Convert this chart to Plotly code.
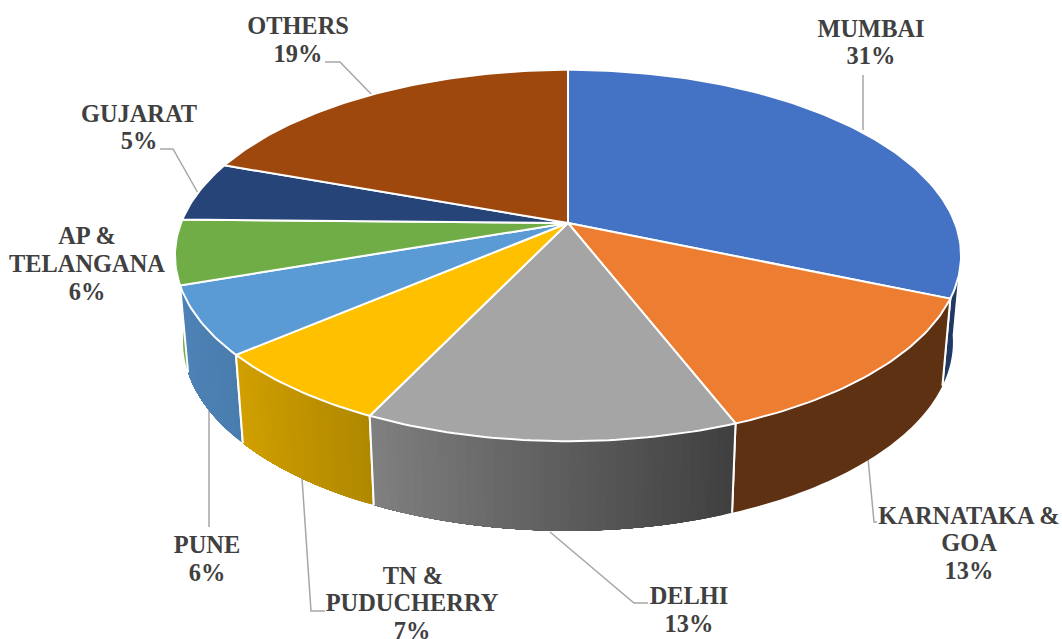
import math
import plotly.graph_objects as go

# ---- data ----
categories = ["MUMBAI", "KARNATAKA & GOA", "DELHI", "TN & PUDUCHERRY", "PUNE", "AP & TELANGANA", "GUJARAT", "OTHERS"]
values = [31.4, 12.7, 13.0, 6.65, 5.95, 5.6, 5.21, 19.49]

# ---- styles ----
top_colors = ["#4472C4", "#ED7D31", "#A5A5A5", "#FFC000", "#5B9BD5", "#70AD47", "#264478", "#9E480E"]
wall_left = {0: "#1F3864", 1: "#5F3113", 2: "#808080", 3: "#D2A000", 4: "#4F83B8", 5: "#70AD47"}
wall_right = {0: "#1F3864", 1: "#5F3113", 2: "#3F3F3F", 3: "#B08800", 4: "#4A7DAE", 5: "#70AD47"}

# ---- projection of the tilted pie ----
CX, CY, A, B, K = 568, 223, 387, 180, 0.175
A2, B2, Y2 = 379, 183, 309


def rim(theta, lower=False):
    den = 1 + K * math.cos(theta)
    a = A2 if lower else A
    b = B2 if lower else B
    y0 = Y2 if lower else CY
    return CX + a * math.sin(theta) / den, y0 - b * math.cos(theta) / den


def lerp(c1, c2, t):
    p = [int(c1[i:i + 2], 16) for i in (1, 3, 5)]
    q = [int(c2[i:i + 2], 16) for i in (1, 3, 5)]
    return "#%02X%02X%02X" % tuple(round(a + (b - a) * t) for a, b in zip(p, q))


total = sum(values)
bounds = [0]
for v in values:
    bounds.append(bounds[-1] + v)
angles = [2 * math.pi * b / total for b in bounds]

fig = go.Figure()

# leader lines
leaders = [
    ([863, 863], [75, 130]),
    ([325, 340, 373], [62, 62, 96]),
    ([160, 173, 198], [149, 149, 193]),
    ([877, 874, 868], [522, 522, 458]),
    ([209, 209], [527, 405]),
    ([325, 311, 302], [611, 611, 478]),
    ([648, 634, 550], [603, 603, 532]),
]
for lx, ly in leaders:
    fig.add_trace(go.Scatter(x=lx, y=ly, mode="lines", line=dict(color="#A6A6A6", width=1.5), hoverinfo="skip"))


def wall(i):
    t1, t2 = angles[i], angles[i + 1]
    if i == 0:
        t1 = math.radians(98)
    n = 40 if wall_left[i] != wall_right[i] else 1
    # painter's order: every strip runs to the far end of the slice, the next one covers it
    for s in range(n):
        a = t1 + (t2 - t1) * s / n
        steps = 40
        th = [a + (t2 - a) * j / steps for j in range(steps + 1)]
        up = [rim(t) for t in th]
        lo = [rim(t, True) for t in reversed(th)]
        xs = [p[0] for p in up + lo]
        ys = [p[1] for p in up + lo]
        col = lerp(wall_left[i], wall_right[i], 1 - (s + 0.5) / n)
        fig.add_trace(go.Scatter(x=xs + xs[:1], y=ys + ys[:1], mode="none", fill="toself", fillcolor=col,
                                 hoverinfo="skip"))
    # white separators
    if i != 5:
        for t in (t1, t2):
            if i == 0 and t == t1:
                continue
            p, q = rim(t), rim(t, True)
            fig.add_trace(go.Scatter(x=[p[0], q[0]], y=[p[1], q[1]], mode="lines",
                                     line=dict(color="white", width=2), hoverinfo="skip"))


for i in [5, 0, 1, 4, 3, 2]:
    wall(i)

# top faces
for i, c in enumerate(top_colors):
    t1, t2 = angles[i], angles[i + 1]
    n = max(8, int((t2 - t1) * 60))
    pts = [rim(t1 + (t2 - t1) * j / n) for j in range(n + 1)]
    xs = [CX] + [p[0] for p in pts] + [CX]
    ys = [CY] + [p[1] for p in pts] + [CY]
    fig.add_trace(go.Scatter(x=xs, y=ys, mode="lines", fill="toself", fillcolor=c,
                             line=dict(color="white", width=2), hoverinfo="text", text=categories[i]))

# labels
label_lines = [
    (871, 31, "MUMBAI"), (871, 58, "31%"),
    (298, 28, "OTHERS"), (298, 56, "19%"),
    (139, 116, "GUJARAT"), (139, 143, "5%"),
    (87, 238, "AP &"), (87, 266, "TELANGANA"), (87, 294, "6%"),
    (969, 518, "KARNATAKA &"), (969, 545, "GOA"), (969, 573, "13%"),
    (689, 598, "DELHI"), (689, 626, "13%"),
    (413, 578, "TN &"), (412, 605, "PUDUCHERRY"), (412, 633, "7%"),
    (207, 547, "PUNE"), (207, 575, "6%"),
]
fig.add_trace(go.Scatter(x=[l[0] for l in label_lines], y=[l[1] for l in label_lines],
                         text=[l[2] for l in label_lines], mode="text", textposition="middle center",
                         textfont=dict(family="Liberation Serif", size=24.4, color="#404040", weight=700),
                         hoverinfo="skip", cliponaxis=False))

fig.update_layout(
    width=1062, height=639, margin=dict(l=0, r=0, t=0, b=0), showlegend=False,
    paper_bgcolor="white", plot_bgcolor="white",
    xaxis=dict(range=[0, 1062], visible=False, fixedrange=True),
    yaxis=dict(range=[639, 0], visible=False, fixedrange=True),
)
fig.write_html("out.html", config={"displayModeBar": False},
               post_script="document.body.style.margin='0';document.body.style.overflow='hidden';")
